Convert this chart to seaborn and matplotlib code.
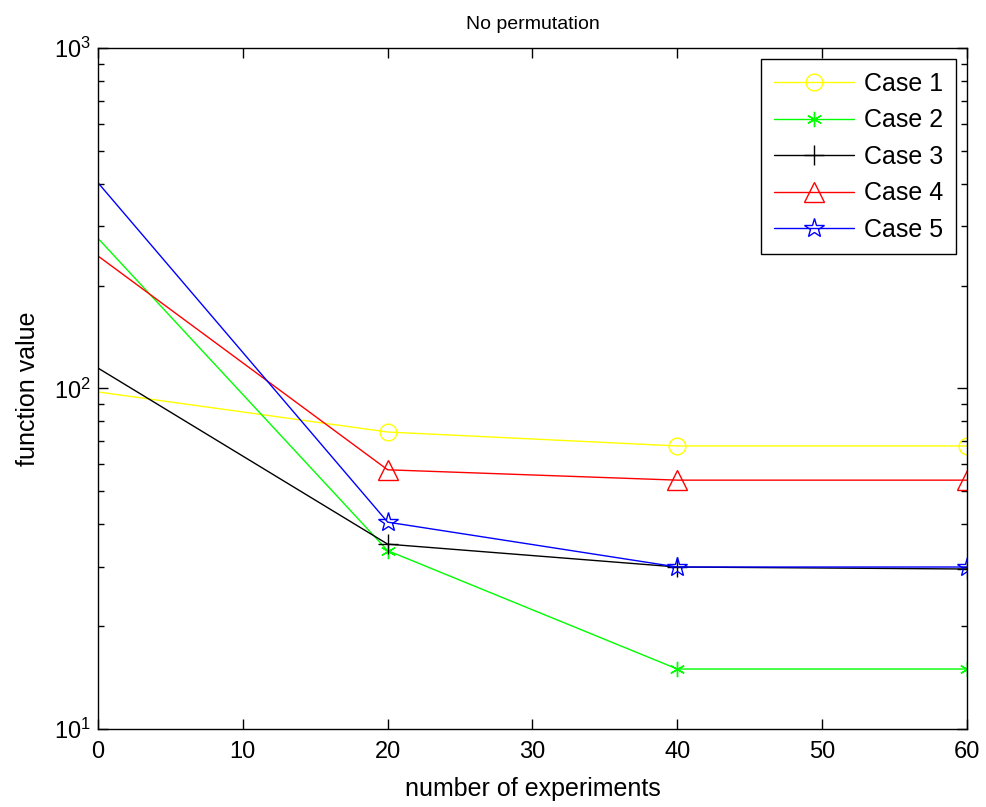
import matplotlib
matplotlib.use("Agg")
import matplotlib.pyplot as plt
import seaborn as sns
import numpy as np
from matplotlib.ticker import LogLocator, FixedLocator

sns.set_style("ticks")
plt.rcParams['font.family'] = ['Liberation Sans', 'DejaVu Sans']
plt.rcParams['mathtext.fontset'] = 'custom'
plt.rcParams['mathtext.rm'] = 'Liberation Sans'
plt.rcParams['mathtext.default'] = 'regular'
plt.rcParams['text.color'] = 'black'
plt.rcParams['axes.labelcolor'] = 'black'
plt.rcParams['xtick.color'] = 'black'
plt.rcParams['ytick.color'] = 'black'

experiments = [0, 20, 40, 60]
case1 = [97.7, 74.5, 67.8, 67.8]
case2 = [276, 33.4, 15.0, 15.0]
case3 = [114.8, 34.9, 29.9, 29.5]
case4 = [245, 57.7, 53.8, 53.8]
case5 = [402, 40.5, 29.9, 29.9]
labels = ["Case 1", "Case 2", "Case 3", "Case 4", "Case 5"]
series = [case1, case2, case3, case4, case5]
colors = ["#ffff00", "#00ff00", "#000000", "#ff0000", "#0000ff"]
markers = ["o", (6, 2, 0), "+", "^", "*"]
msizes = [12, 11, 14, 14, 15]

fig = plt.figure(figsize=(9.86, 8.07), dpi=100)
ax = fig.add_axes([0.0994, 0.0967, 0.8813, 0.8438])

for lab, vals, c, m, ms in zip(labels, series, colors, markers, msizes):
    sns.lineplot(x=experiments, y=vals, ax=ax, color=c, marker=m, markersize=ms,
                 markerfacecolor='none', markeredgecolor=c, markeredgewidth=1.0,
                 markevery=[1, 2, 3], linewidth=1.0, label=lab)

ax.set_yscale('log')
ax.set_xlim(0, 60)
ax.set_ylim(10, 1000)
ax.set_xticks([0, 10, 20, 30, 40, 50, 60])
ax.yaxis.set_major_locator(FixedLocator([10, 100, 1000]))
ax.yaxis.set_minor_locator(LogLocator(base=10, subs=np.arange(2, 10)))
ax.set_yticklabels([r'$10^1$', r'$10^2$', r'$10^3$'])
ax.tick_params(which='both', direction='in', top=True, right=True, labelsize=17)
ax.tick_params(which='major', length=7, width=1)
ax.tick_params(which='minor', length=4, width=1)
ax.tick_params(axis='x', which='major', pad=9)
ax.tick_params(axis='y', which='major', pad=5)
for s in ax.spines.values():
    s.set_linewidth(1.0)
    s.set_color('black')
ax.set_xlabel('number of experiments', fontsize=18, labelpad=10)
ax.set_ylabel('function value', fontsize=18, labelpad=10)
ax.set_title('No permutation', fontsize=14, pad=14)

leg = ax.legend(loc='upper right', fontsize=18, fancybox=False, edgecolor='black',
                framealpha=1, handlelength=3.2, handletextpad=0.4, borderpad=0.5,
                borderaxespad=0.45, labelspacing=0.5)
leg.get_frame().set_linewidth(1.0)

fig.savefig('out.png', dpi=100, facecolor='white')
